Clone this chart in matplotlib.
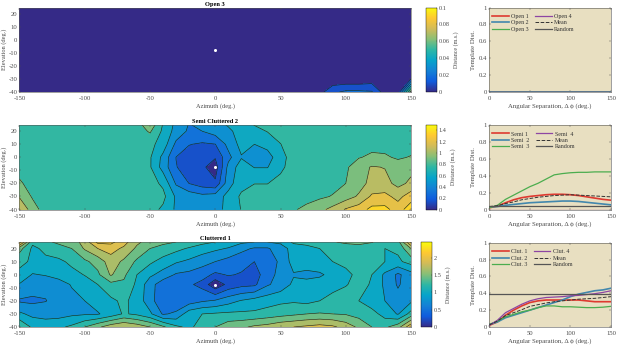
import numpy as np
import matplotlib
matplotlib.use("Agg")
import matplotlib.pyplot as plt
from matplotlib.cm import ScalarMappable
from matplotlib.colors import LinearSegmentedColormap, Normalize

plt.rcParams['font.family'] = ['Liberation Serif', 'DejaVu Serif']
plt.rcParams['axes.unicode_minus'] = False

textGrey = '#4a4a4a'
parula = LinearSegmentedColormap.from_list('parula', ['#352a87', '#0f5cdd', '#1481d6', '#06a4ca', '#2eb7a4',
                                                      '#87bf77', '#d1bb59', '#fec832', '#f9fb0e'])

azimuth = [-150, -140, -130, -120, -110, -100, -90, -80, -70, -60, -50, -40, -30, -20, -10, 0,
           10, 20, 30, 40, 50, 60, 70, 80, 90, 100, 110, 120, 130, 140, 150]
elevation = [-40, -30, -20, -7.5, 0, 10, 20, 25]

# rows go with elevation, bottom row first
openMap = [
    [0, 0, 0, 0, 0, 0, 0, 0, 0, 0, 0, 0, 0, 0, 0, 0, 0, 0, 0, 0, 0, 0, 0, .006, .018, .022, .022, .021, .005, .002, .065],
    [0, 0, 0, 0, 0, 0, 0, 0, 0, 0, 0, 0, 0, 0, 0, 0, 0, 0, 0, 0, 0, 0, 0, 0, .002, .002, .002, .004, 0, 0, .01],
    [0, 0, 0, 0, 0, 0, 0, 0, 0, 0, 0, 0, 0, 0, 0, 0, 0, 0, 0, 0, 0, 0, 0, 0, 0, 0, 0, 0, 0, 0, 0],
    [0, 0, 0, 0, 0, 0, 0, 0, 0, 0, 0, 0, 0, 0, 0, 0, 0, 0, 0, 0, 0, 0, 0, 0, 0, 0, 0, 0, 0, 0, 0],
    [0, 0, 0, 0, 0, 0, 0, 0, 0, 0, 0, 0, 0, 0, 0, 0, 0, 0, 0, 0, 0, 0, 0, 0, 0, 0, 0, 0, 0, 0, 0],
    [0, 0, 0, 0, 0, 0, 0, 0, 0, 0, 0, 0, 0, 0, 0, 0, 0, 0, 0, 0, 0, 0, 0, 0, 0, 0, 0, 0, 0, 0, 0],
    [0, 0, 0, 0, 0, 0, 0, 0, 0, 0, 0, 0, 0, 0, 0, 0, 0, 0, 0, 0, 0, 0, 0, 0, 0, 0, 0, 0, 0, 0, 0],
    [0, 0, 0, 0, 0, 0, 0, 0, 0, 0, 0, 0, 0, 0, 0, 0, 0, 0, 0, 0, 0, 0, 0, 0, 0, 0, 0, 0, 0, 0, 0],
]
semiMap = [
    [1.33, 1.08, .92, .9, .9, .9, .9, .9, .9, .9, .9, .8, .64, .6, .58, .6, .72, .84, .88, .9, .92, .98, 1.05, 1.12, 1.22, 1.35, 1.42, 1.55, 1.55, 1.42, 1.6],
    [1.15, .98, .9, .9, .9, .9, .9, .9, .9, .9, .92, .88, .64, .6, .55, .58, .72, .86, .9, .9, .9, .9, .93, .97, 1.01, 1.09, 1.19, 1.36, 1.38, 1.28, 1.42],
    [1.03, .92, .9, .9, .9, .9, .9, .9, .9, .9, .9, .8, .48, .33, .25, .2, .6, .78, .83, .83, .88, .9, .9, .92, .95, 1.0, 1.1, 1.22, 1.22, 1.12, 1.2],
    [.92, .9, .9, .9, .9, .9, .9, .9, .9, .9, .85, .6, .34, .26, .2, .08, .55, .75, .66, .66, .8, .9, .88, .9, .92, .97, 1.1, 1.18, 1.16, 1.07, 1.12],
    [.9, .9, .9, .9, .9, .9, .9, .9, .9, .9, .85, .62, .33, .25, .22, .18, .45, .655, .6, .6, .76, .92, .9, .9, .9, .92, .99, 1.03, 1.02, .98, 1.01],
    [.9, .9, .9, .9, .9, .9, .9, .9, .9, .9, .88, .76, .46, .34, .31, .33, .55, .72, .667, .72, .83, .9, .9, .9, .9, .91, .93, .95, .95, .94, .94],
    [.9, .9, .9, .9, .9, .9, .9, .9, .9, .92, 1.02, .8, .6, .47, .5, .58, .64, .72, .78, .84, .88, .9, .9, .9, .9, .9, .9, .9, .9, .9, .9],
    [.92, .9, .9, .9, .9, .9, .9, .9, .9, .93, 1.12, .82, .62, .49, .55, .62, .68, .76, .84, .88, .9, .9, .9, .9, .92, .92, .92, .92, .92, .92, .92],
]
clutteredMap = [
    [1.5, 1.2, 1.15, 1.2, 1.3, 1.5, 1.7, 1.9, 2.0, 1.9, 1.75, 1.55, 1.3, 1.2, 1.35, 1.5, 1.65, 1.7, 1.8, 1.85, 1.95, 2.0, 2.05, 2.1, 2.05, 1.9, 1.7, 1.5, 1.45, 1.65, 2.2],
    [1.05, .93, .9, .9, .95, .97, .98, 1.1, 1.28, 1.2, 1.05, .72, .8, 1.15, 1.25, 1.28, 1.3, 1.3, 1.3, 1.35, 1.4, 1.45, 1.5, 1.52, 1.5, 1.48, 1.4, 1.35, 1.15, .98, 1.35],
    [.72, .7, .74, .85, .92, 1.0, 1.1, 1.2, 1.3, 1.15, .85, .55, .55, .62, .72, .78, .9, 1.02, 1.1, 1.15, 1.2, 1.22, 1.18, 1.25, 1.32, 1.4, 1.25, 1.1, 1.0, .85, .95],
    [.98, .88, .82, .88, 1.02, 1.15, 1.25, 1.42, 1.45, 1.2, .85, .6, .55, .54, .42, .05, .33, .42, .45, .72, .85, 1.05, 1.12, 1.15, 1.18, 1.23, 1.35, 1.22, .95, .72, .9],
    [1.2, .98, 1.02, 1.1, 1.18, 1.26, 1.45, 1.78, 1.55, 1.25, 1.05, .9, .72, .68, .6, .45, .52, .48, .4, .62, .85, .98, .9, .95, 1.1, 1.2, 1.3, 1.25, .95, .7, .9],
    [1.3, 1.22, 1.2, 1.2, 1.3, 1.45, 1.6, 1.88, 1.7, 1.45, 1.3, 1.15, 1.03, .95, .85, .75, .65, .58, .5, .6, .8, 1.1, 1.2, 1.22, 1.25, 1.3, 1.3, 1.3, 1.25, 1.2, 1.35],
    [1.6, 1.2, 1.3, 1.4, 1.5, 1.78, 2.0, 2.1, 1.95, 1.7, 1.5, 1.42, 1.32, 1.22, 1.12, 1.05, .98, .82, .72, .72, .88, 1.1, 1.2, 1.25, 1.3, 1.35, 1.35, 1.3, 1.25, 1.3, 1.75],
    [2.4, 1.3, 1.45, 1.55, 1.62, 1.85, 2.32, 2.32, 2.1, 1.8, 1.65, 1.55, 1.5, 1.42, 1.32, 1.25, 1.15, 1.05, 1.0, 1.0, 1.05, 1.3, 1.3, 1.35, 1.48, 1.55, 1.6, 1.52, 1.35, 1.4, 2.3],
]

separation = [0, 10, 20, 30, 40, 50, 60, 70, 80, 90, 100, 110, 120, 130, 140, 150]
openCurve = [0, 0, 0, 0, 0, 0, 0, 0, 0, 0, 0, 0, 0, 0, 0, 0]

semi1 = [.02, .04, .08, .115, .14, .155, .165, .175, .18, .18, .175, .165, .15, .135, .12, .11]
semi2 = [.03, .035, .05, .06, .07, .08, .085, .09, .095, .1, .1, .095, .085, .075, .065, .055]
semi3 = [.02, .05, .12, .17, .22, .27, .31, .36, .41, .425, .435, .44, .44, .445, .445, .445]
semi4 = [0, 0, 0, 0, 0, 0, 0, 0, 0, 0, 0, 0, 0, 0, 0, 0]
semiMean = [.035, .045, .07, .09, .115, .13, .145, .155, .165, .17, .175, .17, .165, .16, .155, .15]
semiRandom = [.045, .045, .045, .045, .045, .045, .045, .045, .045, .045, .045, .045, .045, .045, .045, .045]

clut1 = [.02, .06, .14, .2, .25, .29, .31, .32, .32, .32, .32, .32, .31, .3, .3, .3]
clut2 = [.03, .06, .11, .14, .17, .2, .23, .26, .29, .32, .36, .39, .41, .43, .44, .46]
clut3 = [.03, .07, .12, .15, .18, .2, .23, .25, .25, .24, .24, .235, .23, .23, .235, .245]
clut4 = [.02, .08, .17, .22, .27, .31, .335, .35, .355, .36, .37, .375, .385, .395, .41, .43]
clutMean = [.025, .07, .135, .17, .205, .245, .265, .285, .3, .31, .32, .33, .335, .34, .35, .36]
clutRandom = [.39, .39, .39, .39, .39, .39, .39, .39, .39, .39, .39, .39, .39, .39, .39, .39]

W = 617.0
H = 346.0


def pixelAxes(fig, left, top, right, bottom):
    return fig.add_axes([left / W, 1 - bottom / H, (right - left) / W, (bottom - top) / H])


def styleAxes(ax):
    for side in ax.spines:
        ax.spines[side].set_linewidth(0.4)
        ax.spines[side].set_color('#555555')
    ax.tick_params(direction='in', length=1.5, width=0.3, labelsize=4.8, colors=textGrey,
                   top=True, right=True)
    ax.tick_params(axis='x', pad=3)
    ax.tick_params(axis='y', pad=1.5)


def plotMap(fig, box, cbarBox, grid, levels, vmax, bandMax, cbarTicks, title):
    ax = pixelAxes(fig, *box)
    norm = Normalize(0, vmax)
    # each band takes the colour of its lower level
    bandColors = [parula(level / bandMax) for level in levels[:-1]]
    ax.contourf(azimuth, elevation, grid, levels=levels, colors=bandColors)
    ax.contour(azimuth, elevation, grid, levels=levels[1:-1], colors='#1a2a20', linewidths=0.45)
    ax.plot(0, -7.5, 'o', color='white', markersize=2.2, markeredgewidth=0)
    ax.set_xlim(-150, 150)
    ax.set_ylim(-40, 25)
    ax.set_xticks([-150, -100, -50, 0, 50, 100, 150])
    ax.set_yticks([-40, -30, -20, -10, 0, 10, 20])
    ax.set_xlabel('Azimuth (deg.)', fontsize=4.6, color=textGrey, labelpad=1.5)
    ax.set_ylabel('Elevation (deg.)', fontsize=4.6, color=textGrey, labelpad=1)
    ax.set_title(title, fontsize=4.6, fontweight='bold', color='black', pad=1.2)
    styleAxes(ax)

    cax = pixelAxes(fig, *cbarBox)
    cbar = fig.colorbar(ScalarMappable(norm=norm, cmap=parula), cax=cax)
    cbar.set_ticks(cbarTicks)
    cbar.ax.set_yticklabels([str(t) for t in cbarTicks])
    cbar.set_label('Distance (m.s.)', fontsize=4.3, color=textGrey, labelpad=2.5)
    cbar.outline.set_linewidth(0.3)
    cbar.ax.tick_params(direction='in', length=1, width=0.3, labelsize=4.5, colors=textGrey, pad=1.5)


def plotCurves(fig, box, names, curves):
    ax = pixelAxes(fig, *box)
    ax.set_facecolor('#e8dfc1')
    colors = ['#de3a30', '#4287ad', '#4bad4e', '#8d46a3', '#333333', '#555555']
    styles = ['-', '-', '-', '-', '--', '-']
    widths = [1.2, 1.2, 0.9, 0.9, 0.7, 0.9]
    for name, curve, color, style, width in zip(names, curves, colors, styles, widths):
        ax.plot(separation, curve, style, color=color, linewidth=width, label=name)
    ax.set_xlim(0, 150)
    ax.set_ylim(0, 1)
    ax.set_xticks([0, 50, 100, 150])
    ax.set_yticks([0, 0.2, 0.4, 0.6, 0.8, 1])
    ax.set_yticklabels(['0', '0.2', '0.4', '0.6', '0.8', '1'])
    ax.set_xlabel('Angular Separation, \u0394 \u03d5 (deg.)', fontsize=4.9, color=textGrey, labelpad=1.5)
    ax.set_ylabel('Template Dist.', fontsize=4.9, color=textGrey, labelpad=2)
    styleAxes(ax)
    ax.legend(ncol=2, loc='upper left', frameon=False, fontsize=4.3, labelcolor='#333333',
              bbox_to_anchor=(0.0, 0.96), handlelength=2.75, handletextpad=0.45,
              columnspacing=1.0, labelspacing=0.2, borderpad=0.3, borderaxespad=0.2)


def main():
    fig = plt.figure(figsize=(6.17, 3.46), dpi=100)

    plotMap(fig, (19.5, 7.5, 411, 92), (425.7, 7.5, 436.7, 92), openMap,
            [0, .01, .02, .03, .04, .05, .06, .07, .08, .09, .1], 0.1, 0.1,
            [0, 0.02, 0.04, 0.06, 0.08, 0.1], 'Open 3')
    plotMap(fig, (19.5, 124.7, 411, 209.5), (425.7, 124.7, 436.7, 209.5), semiMap,
            [0, .167, .333, .5, .667, .833, 1.0, 1.167, 1.333, 1.5, 1.9], 1.5, 1.65,
            [0, 0.2, 0.4, 0.6, 0.8, 1, 1.2, 1.4], 'Semi Cluttered 2')
    plotMap(fig, (19.5, 242, 411, 327), (421, 242, 431.7, 327), clutteredMap,
            [0, .25, .5, .75, 1.0, 1.25, 1.5, 1.75, 2.0, 2.25, 2.5], 2.45, 2.55,
            [0, 0.5, 1, 1.5, 2], 'Cluttered 1')

    plotCurves(fig, (489.3, 7.5, 611, 92), ['Open 1', 'Open 2', 'Open 3', 'Open 4', 'Mean', 'Random'],
               [openCurve, openCurve, openCurve, openCurve, openCurve, openCurve])
    plotCurves(fig, (489.3, 125, 611, 209.5), ['Semi 1', 'Semi  2', 'Semi  3', 'Semi  4', 'Mean', 'Random'],
               [semi1, semi2, semi3, semi4, semiMean, semiRandom])
    plotCurves(fig, (489.3, 242.7, 611, 327), ['Clut. 1', 'Clut. 2', 'Clut. 3', 'Clut. 4', 'Mean', 'Random'],
               [clut1, clut2, clut3, clut4, clutMean, clutRandom])

    fig.savefig('out.png', dpi=100)


if __name__ == "__main__":
    main()
